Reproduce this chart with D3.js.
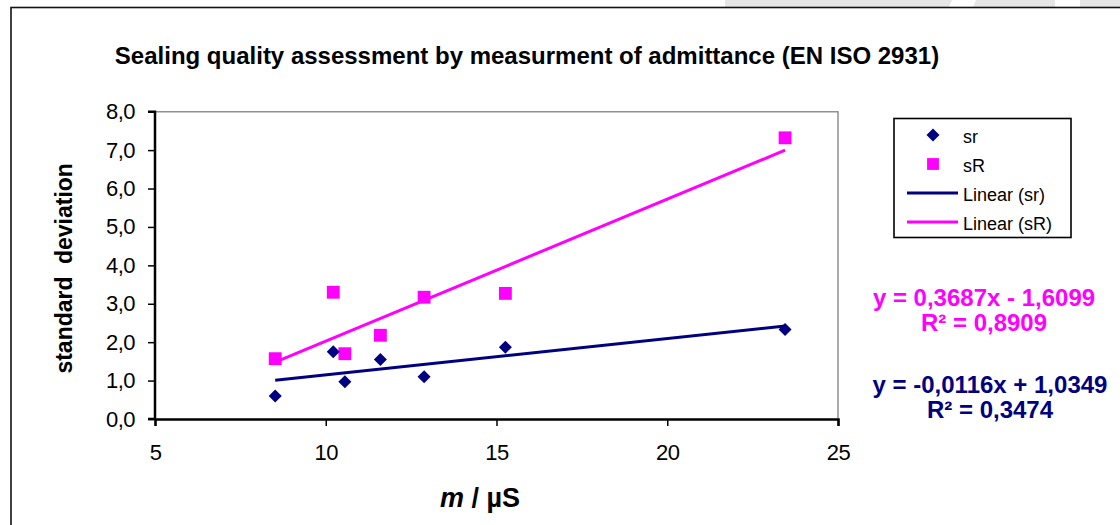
<!DOCTYPE html>
<html>
<head>
<meta charset="utf-8">
<script src="https://cdn.jsdelivr.net/npm/d3@7"></script>
<style>
  body { margin: 0; background: #fff; }
  svg { display: block; font-family: "Liberation Sans", Arial, sans-serif; }
</style>
</head>
<body>
<div id="chart"></div>
<script>
// conductivity m / µS (same for both series)
const admittance = [8.52, 10.22, 10.56, 11.6, 12.88, 15.26, 23.45];
// repeatability sr
const sr = [0.60, 1.75, 0.97, 1.55, 1.10, 1.87, 2.33];
// reproducibility sR
const sR = [1.57, 3.30, 1.70, 2.18, 3.17, 3.27, 7.32];
const yTicks = [0, 1, 2, 3, 4, 5, 6, 7, 8];
const xTicks = [5, 10, 15, 20, 25];
const legendLabels = ['sr', 'sR', 'Linear (sr)', 'Linear (sR)'];
const eqSR = ['y = 0,3687x - 1,6099', 'R² = 0,8909'];
const eqSr = ['y = -0,0116x + 1,0349', 'R² = 0,3474'];

const NAVY = '#000080', MAGENTA = '#ff00ff';
const width = 1120, height = 525;

const svg = d3.select('#chart').append('svg')
  .attr('width', width)
  .attr('height', height);

// page background strip above the chart frame
const strip = svg.append('g');
strip.append('path')
  .attr('d', 'M725,0 L952,0 L949,7 L725,7 Z')
  .attr('fill', '#e6e6e6');
strip.append('path')
  .attr('d', 'M976,0 L1055,0 L1055,7 L973,7 Z')
  .attr('fill', '#e6e6e6');
strip.append('rect')
  .attr('x', 1080).attr('y', 0).attr('width', 40).attr('height', 7)
  .attr('fill', '#e6e6e6');

// chart frame
svg.append('rect')
  .attr('x', 11).attr('y', 7.5)
  .attr('width', 1130).attr('height', 540)
  .attr('fill', '#fff')
  .attr('stroke', '#111')
  .attr('stroke-width', 1.6);

// title
svg.append('text')
  .attr('x', 527).attr('y', 64)
  .attr('text-anchor', 'middle')
  .style('font-size', '24px')
  .style('font-weight', 'bold')
  .text('Sealing quality assessment by measurment of admittance (EN ISO 2931)');

const x = d3.scaleLinear().domain([5, 25]).range([155, 838]);
const y = d3.scaleLinear().domain([0, 8]).range([419, 111.7]);

// plot area border (gray, top and right)
svg.append('path')
  .attr('d', `M${x(5)},${y(8)} H${x(25)} V${y(0)}`)
  .attr('fill', 'none')
  .attr('stroke', '#909090')
  .attr('stroke-width', 1.5);

const fmt = d => d3.format('.1f')(d).replace('.', ',');

const yAxis = svg.append('g')
  .attr('transform', `translate(${x(5)},0)`)
  .call(d3.axisLeft(y).tickValues(yTicks).tickFormat(fmt).tickSize(7).tickPadding(13));
const xAxis = svg.append('g')
  .attr('transform', `translate(0,${y(0)})`)
  .call(d3.axisBottom(x).tickValues(xTicks).tickSize(7).tickPadding(18));

[yAxis, xAxis].forEach(a => {
  a.select('.domain').attr('stroke', '#000').attr('stroke-width', 2.5);
  a.selectAll('.tick line').attr('stroke', '#000').attr('stroke-width', 1.5);
  a.selectAll('text')
    .attr('fill', '#000')
    .style('font-family', '"Liberation Sans", Arial, sans-serif')
    .style('font-size', '22px')
    .style('letter-spacing', '-0.5px');
});
yAxis.select('.domain').attr('d', `M-7,${y(8)}H0V${y(0)}H-7`);

// axis titles
svg.append('text')
  .attr('transform', `translate(72,${(y(0) + y(8)) / 2 + 3}) rotate(-90)`)
  .attr('text-anchor', 'middle')
  .style('font-size', '23px')
  .style('font-weight', 'bold')
  .style('word-spacing', '6px')
  .text('standard deviation');

const xt = svg.append('text')
  .attr('x', 480).attr('y', 507)
  .attr('text-anchor', 'middle')
  .style('font-size', '27px')
  .style('font-weight', 'bold');
xt.append('tspan').style('font-style', 'italic').text('m');
xt.append('tspan').text(' / µS');

// linear fits from the data
function fit(xs, ys) {
  const mx = d3.mean(xs), my = d3.mean(ys);
  const sxy = d3.sum(xs, (v, i) => (v - mx) * (ys[i] - my));
  const sxx = d3.sum(xs, v => (v - mx) * (v - mx));
  const b = sxy / sxx;
  return {b: b, a: my - b * mx};
}
const line = d3.line().x(d => x(d[0])).y(d => y(d[1]));
const ext = d3.extent(admittance);

[[sr, NAVY], [sR, MAGENTA]].forEach(([ys, col]) => {
  const f = fit(admittance, ys);
  svg.append('path')
    .datum(ext.map(v => [v, f.a + f.b * v]))
    .attr('d', line)
    .attr('fill', 'none')
    .attr('stroke', col)
    .attr('stroke-width', 3);
});

const diamond = d3.symbol().type(d3.symbolSquare).size(85);
const square = d3.symbol().type(d3.symbolSquare).size(165);

svg.append('g').selectAll('path')
  .data(admittance.map((v, i) => [v, sR[i]]))
  .join('path')
  .attr('d', square)
  .attr('transform', d => `translate(${x(d[0])},${y(d[1])})`)
  .attr('fill', MAGENTA);

svg.append('g').selectAll('path')
  .data(admittance.map((v, i) => [v, sr[i]]))
  .join('path')
  .attr('d', diamond)
  .attr('transform', d => `translate(${x(d[0])},${y(d[1])}) rotate(45)`)
  .attr('fill', NAVY);

// legend
const lg = svg.append('g').attr('transform', 'translate(894,118.5)');
lg.append('rect')
  .attr('width', 177).attr('height', 119)
  .attr('fill', '#fff')
  .attr('stroke', '#000')
  .attr('stroke-width', 1.6);
legendLabels.forEach((lab, i) => {
  const cy = 16.5 + i * 29;
  const g = lg.append('g').attr('transform', `translate(0,${cy})`);
  if (i === 0) {
    g.append('path').attr('d', diamond).attr('transform', 'translate(39,0) rotate(45)').attr('fill', NAVY);
  } else if (i === 1) {
    g.append('path').attr('d', d3.symbol().type(d3.symbolSquare).size(140)).attr('transform', 'translate(39,0)').attr('fill', MAGENTA);
  } else {
    g.append('line').attr('x1', 13).attr('x2', 64)
      .attr('stroke', i === 2 ? NAVY : MAGENTA).attr('stroke-width', 3);
  }
  g.append('text')
    .attr('x', 69).attr('y', 7.5)
    .style('font-size', '18px')
    .text(lab);
});

// trend equations
[[eqSR, MAGENTA, 306, 984], [eqSr, NAVY, 393, 990]].forEach(([lines, col, y0, cx]) => {
  lines.forEach((t, i) => {
    svg.append('text')
      .attr('x', cx).attr('y', y0 + i * 25)
      .attr('text-anchor', 'middle')
      .attr('fill', col)
      .style('font-size', '24px')
      .style('font-weight', 'bold')
      .text(t);
  });
});
</script>
</body>
</html>
